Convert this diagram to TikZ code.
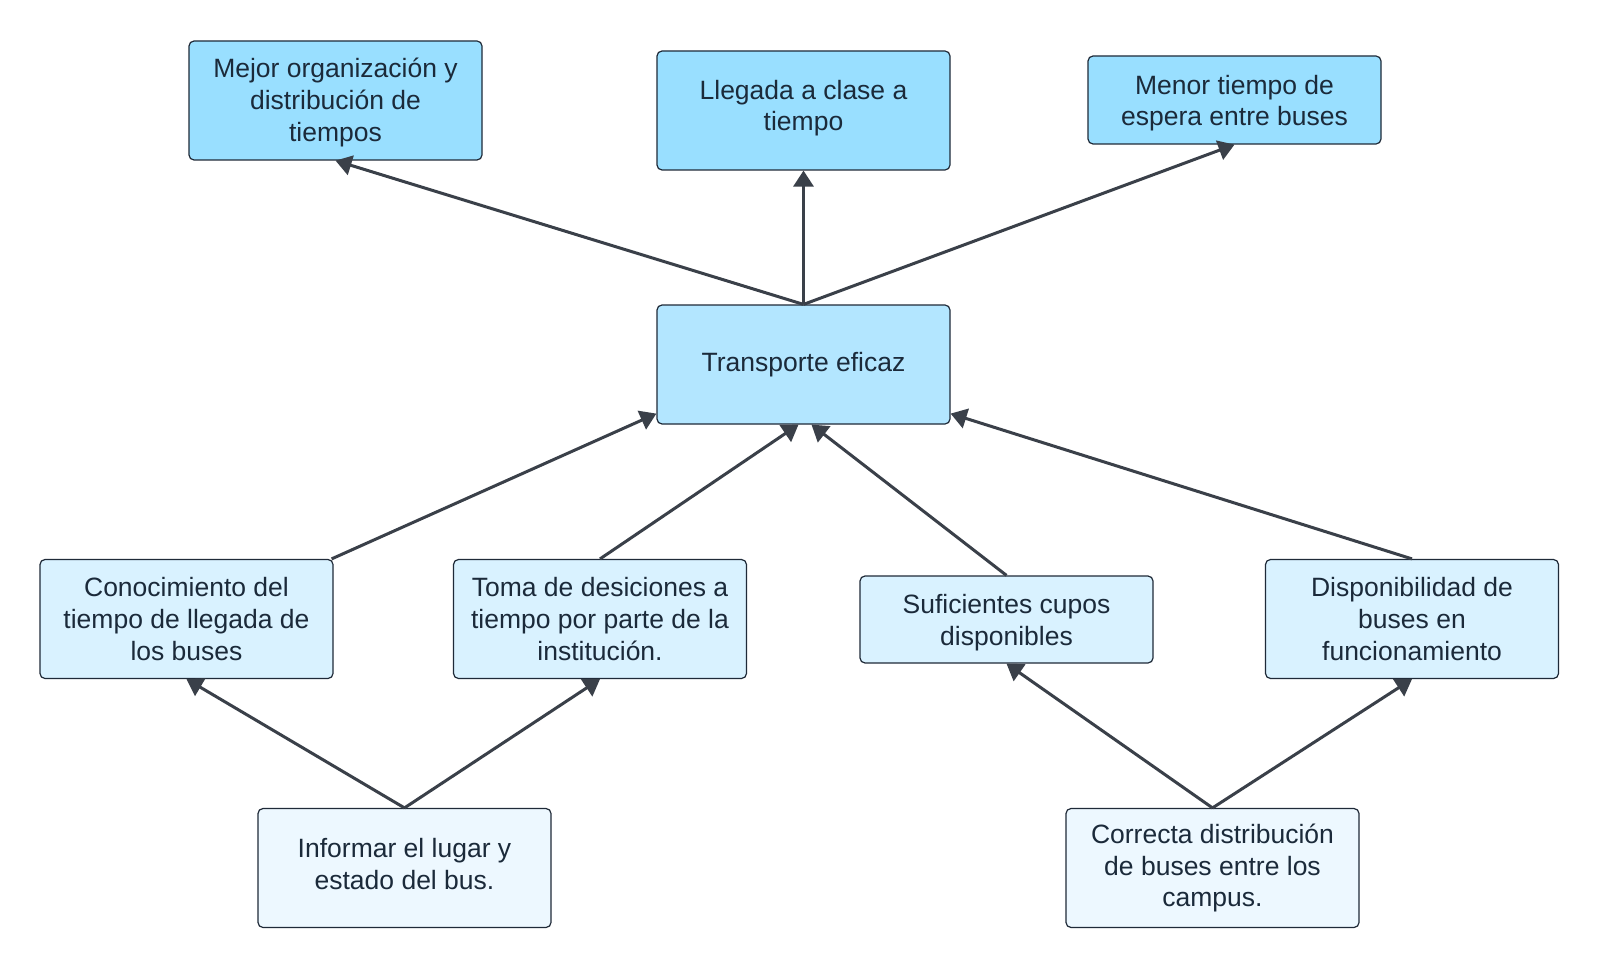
\documentclass[tikz,border=0pt]{standalone}
\usepackage{fontspec}
\setmainfont{Liberation Sans}
\usetikzlibrary{arrows.meta}
\definecolor{lvA}{HTML}{99DFFF}
\definecolor{lvB}{HTML}{B3E6FF}
\definecolor{lvC}{HTML}{D9F2FF}
\definecolor{lvD}{HTML}{EDF8FF}
\definecolor{bordc}{HTML}{1F2A38}
\definecolor{txtc}{HTML}{1B2A3A}
\definecolor{arrc}{HTML}{3A4049}
\newcommand{\dnstrut}[1]{\rule[-#1]{0pt}{#1}}
\newcommand{\upstrut}[1]{\rule{0pt}{#1}}
\tikzset{
  box/.style={draw=bordc, line width=1.2pt, rounded corners=5pt, minimum width=293pt,
    inner sep=0pt, align=center, text=txtc,
    font=\fontsize{26.5}{31.6}\selectfont},
  tall/.style={box, minimum height=119pt},
  short/.style={box, minimum height=87pt},
  conn/.style={draw=arrc, line width=3pt, -{Triangle[length=16pt,width=20pt]}}
}
\begin{document}
\begin{tikzpicture}[x=1pt,y=-1pt]
\useasboundingbox (0,0) rectangle (1600,968);
\fill[white] (0,0) rectangle (1600,968);
\node[tall, fill=lvA] (t1) at (335.5,100.5) {\upstrut{23.5pt}Mejor organización y\\distribución de\\tiempos};
\node[tall, fill=lvA] (t2) at (803.5,110.5) {Llegada a clase a\\tiempo\dnstrut{10pt}};
\node[short, fill=lvA, minimum height=88pt] (t3) at (1234.5,100) {\upstrut{25.5pt}Menor tiempo de\\espera entre buses};
\node[tall, fill=lvB] (c) at (803.5,364.5) {Transporte eficaz};
\node[tall, fill=lvC] (m1) at (186.5,619) {Conocimiento del\\tiempo de llegada de\\los buses};
\node[tall, fill=lvC] (m2) at (600,619) {Toma de desiciones a\\tiempo por parte de la\\institución.};
\node[short, fill=lvC] (m3) at (1006.5,619.5) {\upstrut{25.5pt}Suficientes cupos\\disponibles};
\node[tall, fill=lvC] (m4) at (1412,619) {Disponibilidad de\\buses en\\funcionamiento};
\node[tall, fill=lvD] (b1) at (404.5,868) {Informar el lugar y\\estado del bus.\dnstrut{8.5pt}};
\node[tall, fill=lvD] (b2) at (1212.5,868) {Correcta distribución\\de buses entre los\\campus.};
\draw[conn] (c.north) -- (t1.south);
\draw[conn] (c.north) -- (t2.south);
\draw[conn] (c.north) -- (t3.south);
\draw[conn] ([xshift=-2pt]m1.north east) -- ([yshift=11pt]c.south west);
\draw[conn] (m2.north) -- ([xshift=-5pt]c.south);
\draw[conn] (m3.north) -- ([xshift=8pt]c.south);
\draw[conn] (m4.north) -- ([yshift=11pt]c.south east);
\draw[conn] (b1.north) -- (m1.south);
\draw[conn] (b1.north) -- (m2.south);
\draw[conn] (b2.north) -- (m3.south);
\draw[conn] (b2.north) -- (m4.south);
\end{tikzpicture}
\end{document}
